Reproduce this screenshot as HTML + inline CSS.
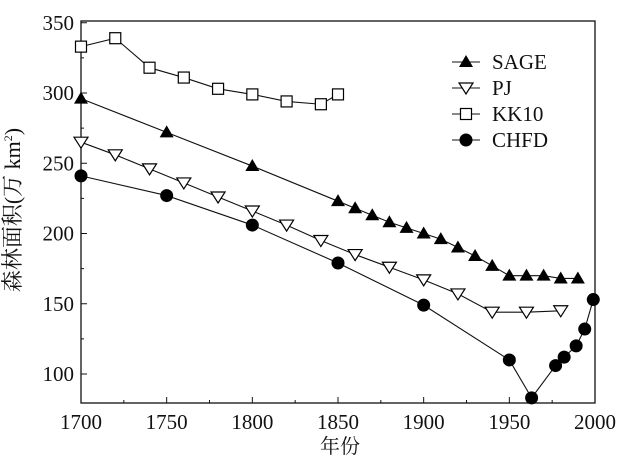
<!DOCTYPE html>
<html><head><meta charset="utf-8"><style>
body{margin:0;background:#fff}
svg text{font-family:"Liberation Serif","Noto Serif CJK SC",serif;fill:#111}
</style></head><body>
<svg id="c" width="624" height="468" viewBox="0 0 624 468"></svg>
<script>
const xTicks=[1700,1750,1800,1850,1900,1950,2000];
const yTicks=[100,150,200,250,300,350];
const sageYears=[1700,1750,1800,1850,1860,1870,1880,1890,1900,1910,1920,1930,1940,1950,1960,1970,1980,1990];
const sageVals=[296,272,248,223,218,213,208,204,200,196,190,184,177,170,170,170,168,168];
const pjYears=[1700,1720,1740,1760,1780,1800,1820,1840,1860,1880,1900,1920,1940,1960,1980];
const pjVals=[265,256,246,236,226,216,206,195,185,176,167,157,144,144,145];
const kkYears=[1700,1720,1740,1760,1780,1800,1820,1840,1850];
const kkVals=[333,339,318,311,303,299,294,292,299];
const chYears=[1700,1750,1800,1850,1900,1950,1963,1977,1982,1989,1994,1999];
const chVals=[241,227,206,179,149,110,83,106,112,120,132,153];
const legendLabels=["SAGE","PJ","KK10","CHFD"];

const NS="http://www.w3.org/2000/svg", svg=document.getElementById('c');
const L=81,R=595,T=21,B=403;
const xs=v=>L+(v-1700)*(R-L)/300;
const ys=v=>374-(v-100)*1.405;
function mk(tag,a,p){const e=document.createElementNS(NS,tag);for(const k in a)e.setAttribute(k,a[k]);(p||svg).appendChild(e);return e;}

const frame=mk('rect',{x:L,y:T,width:R-L,height:B-T,fill:'none',stroke:'#111','stroke-width':1.3});



for(let v=1700;v<=2000;v+=25){const major=v%50===0;
 const t=mk('line',{x1:xs(v),x2:xs(v),y1:B,y2:B-(major?6:3),stroke:'#111'});
 
 }
xTicks.forEach(v=>{const t=mk('text',{x:xs(v),y:429,'text-anchor':'middle','font-size':21});t.textContent=v;
 
 });
for(let v=100;v<=350;v+=25){const major=v%50===0;
 const t=mk('line',{x1:L,x2:L+(major?6:3),y1:ys(v),y2:ys(v),stroke:'#111'});
 
 }
yTicks.forEach(v=>{const t=mk('text',{x:74,y:ys(v)+7,'text-anchor':'end','font-size':21});t.textContent=v;
 
 });

const xt=mk('text',{x:340,y:453,'text-anchor':'middle','font-size':20});xt.textContent='年份';


const yt=mk('text',{x:0,y:0,'text-anchor':'middle','font-size':22,transform:'translate(20,210) rotate(-90)'});
yt.innerHTML='森林面积(万 km<tspan font-size="12" dy="-8">2</tspan><tspan dy="8">)</tspan>';



function marker(type,x,y,g){
 if(type==='tri')return mk('polygon',{points:`${x},${y-7} ${x-7},${y+5} ${x+7},${y+5}`,fill:'#000'},g);
 if(type==='itri')return mk('polygon',{points:`${x-7},${y-5} ${x+7},${y-5} ${x},${y+6}`,fill:'#fff',stroke:'#000','stroke-width':1.2},g);
 if(type==='sq')return mk('rect',{x:x-5.5,y:y-5.5,width:11,height:11,fill:'#fff',stroke:'#000','stroke-width':1.2},g);
 return mk('circle',{cx:x,cy:y,r:6.5,fill:'#000'},g);
}
const series=[[sageYears,sageVals,'tri','sage'],[pjYears,pjVals,'itri','pj'],[kkYears,kkVals,'sq','kk10'],[chYears,chVals,'dot','chfd']];
series.forEach(([X,Y,m,n])=>{
 const g=mk('g',{});
 
 
 const pl=mk('polyline',{points:X.map((x,i)=>xs(x)+','+ys(Y[i])).join(' '),fill:'none',stroke:'#111','stroke-width':1.1},g);
 
 
 X.forEach((x,i)=>{const e=marker(m,xs(x),ys(Y[i]),g);
  
  });
});

const types=['tri','itri','sq','dot'];
legendLabels.forEach((lab,i)=>{
 const y=62+i*26;
 const g=mk('g',{});
 
 
 mk('line',{x1:452,x2:480,y1:y,y2:y,stroke:'#111','stroke-width':1.1},g);
 marker(types[i],466,y,g);
 const t=mk('text',{x:492,y:y+7,'font-size':21},g);t.textContent=lab;
});
</script>
</body></html>
